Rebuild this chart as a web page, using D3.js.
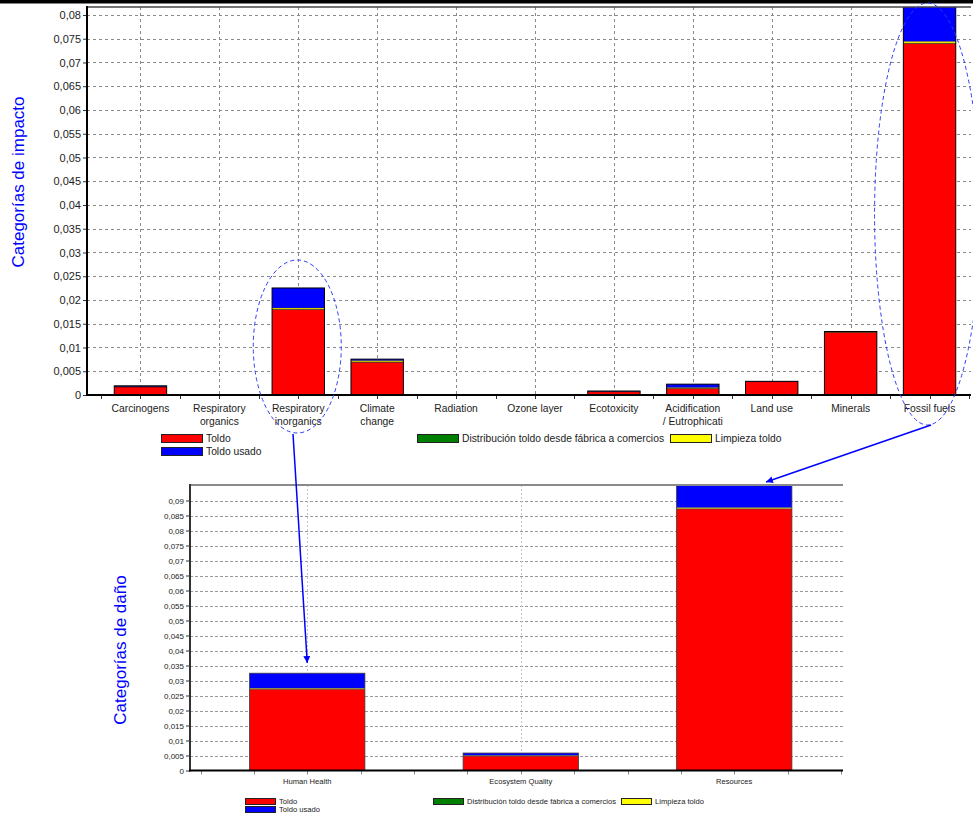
<!DOCTYPE html>
<html>
<head>
<meta charset="utf-8">
<script src="https://cdn.jsdelivr.net/npm/d3@7/dist/d3.min.js"></script>
<style>
  html, body { margin: 0; padding: 0; background: #fff; }
  svg { display: block; font-family: "Liberation Sans", Arial, sans-serif; }
</style>
</head>
<body>
<svg id="chart" width="973" height="814"></svg>
<script>
// ---- Impact categories (upper chart) ----
const impactCategories = ["Carcinogens", "Respiratory organics", "Respiratory inorganics", "Climate change",
  "Radiation", "Ozone layer", "Ecotoxicity", "Acidification / Eutrophicati", "Land use", "Minerals", "Fossil fuels"];
const impactLabelLines = [["Carcinogens"], ["Respiratory", "organics"], ["Respiratory", "inorganics"], ["Climate", "change"],
  ["Radiation"], ["Ozone layer"], ["Ecotoxicity"], ["Acidification", "/ Eutrophicati"], ["Land use"], ["Minerals"], ["Fossil fuels"]];
const impactToldo        = [0.0017, 0, 0.0180, 0.0069, 0, 0, 0.0007, 0.00135, 0.0028, 0.0132, 0.0740];
const impactDistribucion = [0.00002, 0, 0.00003, 0.00005, 0, 0, 0, 0.00003, 0, 0.00001, 0.00005];
const impactLimpieza     = [0.00003, 0, 0.0003, 0.0003, 0, 0, 0.00002, 0.0002, 0, 0.00005, 0.0004];
const impactToldoUsado   = [0.00018, 0, 0.0042, 0.0003, 0, 0, 0.00012, 0.0007, 0.00008, 0.0001, 0.0075];
const impactTickLabels = ["0", "0,005", "0,01", "0,015", "0,02", "0,025", "0,03", "0,035", "0,04",
  "0,045", "0,05", "0,055", "0,06", "0,065", "0,07", "0,075", "0,08"];
const impactMax = 0.08168;

// ---- Damage categories (lower chart) ----
const damageCategories   = ["Human Health", "Ecosystem Quality", "Resources"];
const damageToldo        = [0.0271, 0.0048, 0.0872];
const damageDistribucion = [0.00003, 0.00002, 0.00005];
const damageLimpieza     = [0.0003, 0.0002, 0.0004];
const damageToldoUsado   = [0.0050, 0.0008, 0.0080];
const damageTickLabels = ["0", "0,005", "0,01", "0,015", "0,02", "0,025", "0,03", "0,035", "0,04", "0,045",
  "0,05", "0,055", "0,06", "0,065", "0,07", "0,075", "0,08", "0,085", "0,09"];
const damageMax = 0.09517;

// ---- Series ----
const seriesKeys   = ["Toldo", "Distribución toldo desde fábrica a comercios", "Limpieza toldo", "Toldo usado"];
const seriesColors = ["#ff0000", "#008000", "#ffff00", "#0000ff"];

const svg = d3.select("#chart");
const color = d3.scaleOrdinal().domain(seriesKeys).range(seriesColors);
const parseTick = s => +s.replace(",", ".");

function rows(cats, a, b, c, d) {
  return cats.map((cat, i) => ({ cat, [seriesKeys[0]]: a[i], [seriesKeys[1]]: b[i], [seriesKeys[2]]: c[i], [seriesKeys[3]]: d[i] }));
}

function drawChart(cfg) {
  const g = svg.append("g");
  const x = d3.scaleBand().domain(cfg.categories).range(cfg.bandRange).padding(0);
  const y = d3.scaleLinear().domain([0, cfg.max]).range([cfg.bottom, cfg.top]);
  const tickVals = cfg.tickLabels.map(parseTick);
  const step = x.bandwidth();
  const barW = step * cfg.barRatio;
  const barX = c => x(c) + (step - barW) / 2;

  // horizontal grid
  g.append("g").selectAll("line").data(tickVals.filter(v => v > 0)).join("line")
    .attr("x1", cfg.left).attr("x2", cfg.right)
    .attr("y1", d => Math.round(y(d)) + 0.5).attr("y2", d => Math.round(y(d)) + 0.5)
    .attr("stroke", cfg.gridColor).attr("stroke-width", 1).attr("stroke-dasharray", cfg.gridDash);
  // vertical grid at category centres
  g.append("g").selectAll("line").data(cfg.categories).join("line")
    .attr("x1", d => Math.round(x(d) + step / 2) + 0.5).attr("x2", d => Math.round(x(d) + step / 2) + 0.5)
    .attr("y1", cfg.top).attr("y2", cfg.bottom)
    .attr("stroke", cfg.vGridColor).attr("stroke-width", 1).attr("stroke-dasharray", cfg.vGridDash);

  // clip for the plot area
  const clipId = "clip-" + cfg.id;
  svg.append("clipPath").attr("id", clipId).append("rect")
    .attr("x", cfg.left).attr("y", cfg.top).attr("width", cfg.right - cfg.left).attr("height", cfg.bottom - cfg.top);

  // stacked bars: fills, thin separators, outline of each stack
  const stacked = d3.stack().keys(seriesKeys)(cfg.data);
  const bars = g.append("g").attr("clip-path", `url(#${clipId})`);
  bars.selectAll("g").data(stacked).join("g")
    .attr("fill", d => color(d.key))
    .selectAll("rect").data(d => d.filter(p => p[1] - p[0] > 0)).join("rect")
    .attr("x", d => barX(d.data.cat))
    .attr("width", barW)
    .attr("y", d => y(d[1]))
    .attr("height", d => Math.max(0, y(d[0]) - y(d[1])));
  const seps = stacked.slice(0, -1).flatMap(s => s.filter(p => p[1] - p[0] > 0 && p[1] < d3.sum(seriesKeys, k => p.data[k]) - 1e-9));
  bars.append("g").selectAll("line").data(seps).join("line")
    .attr("x1", d => barX(d.data.cat)).attr("x2", d => barX(d.data.cat) + barW)
    .attr("y1", d => y(d[1])).attr("y2", d => y(d[1]))
    .attr("stroke", cfg.barStroke).attr("stroke-width", 0.5).attr("stroke-opacity", 0.7);
  const totals = cfg.data.map(r => ({ cat: r.cat, total: d3.sum(seriesKeys, k => r[k]) })).filter(d => d.total > 0);
  bars.append("g").selectAll("rect").data(totals).join("rect")
    .attr("x", d => barX(d.cat)).attr("width", barW)
    .attr("y", d => y(d.total)).attr("height", d => y(0) - y(d.total))
    .attr("fill", "none").attr("stroke", cfg.barStroke).attr("stroke-width", cfg.barStrokeWidth);

  // y axis
  const yAxis = d3.axisLeft(y).tickValues(tickVals).tickSize(4).tickPadding(2)
    .tickFormat((d, i) => cfg.tickLabels[i]);
  const ya = g.append("g").attr("transform", `translate(${cfg.left},0)`).call(yAxis);
  ya.select(".domain").remove();
  ya.selectAll(".tick line").attr("stroke", "#333");
  ya.selectAll(".tick text").attr("fill", "#222").style("font-size", cfg.tickFont + "px")
    .style("font-family", "'Liberation Sans', Arial, sans-serif");

  // x ticks at sub-steps
  const sub = d3.range(0, cfg.categories.length * cfg.subDiv + 1).map(i => cfg.bandRange[0] + i * step / cfg.subDiv);
  g.append("g").selectAll("line").data(sub).join("line")
    .attr("x1", d => Math.round(d) + 0.5).attr("x2", d => Math.round(d) + 0.5)
    .attr("y1", cfg.bottom).attr("y2", cfg.bottom + 4)
    .attr("stroke", cfg.subTickColor).attr("stroke-width", 1);

  // x labels
  const xl = g.append("g").selectAll("text").data(cfg.categories).join("text")
    .attr("x", d => x(d) + step / 2).attr("y", cfg.labelY)
    .attr("text-anchor", "middle").attr("fill", "#222").style("font-size", cfg.labelFont + "px");
  xl.each(function (d, i) {
    d3.select(this).selectAll("tspan").data(cfg.labelLines[i]).join("tspan")
      .attr("x", x(d) + step / 2).attr("dy", (t, j) => j === 0 ? 0 : cfg.lineGap).text(t => t);
  });

  // frame
  g.append("line").attr("x1", cfg.left).attr("x2", cfg.right).attr("y1", cfg.top).attr("y2", cfg.top)
    .attr("stroke", cfg.topBorder).attr("stroke-width", cfg.topBorderWidth);
  g.append("line").attr("x1", cfg.left).attr("x2", cfg.left).attr("y1", cfg.top - 1).attr("y2", cfg.bottom + 1)
    .attr("stroke", cfg.leftAxisColor).attr("stroke-width", 2);
  g.append("line").attr("x1", cfg.left - 1).attr("x2", cfg.right).attr("y1", cfg.bottom).attr("y2", cfg.bottom)
    .attr("stroke", "#000").attr("stroke-width", 2);

  // axis title
  svg.append("text").attr("transform", `translate(${cfg.titleX},${cfg.titleY}) rotate(-90)`)
    .attr("text-anchor", "middle").attr("fill", "#0000ff").style("font-size", "17px").text(cfg.title);

  // legend
  const lg = svg.append("g").style("font-size", cfg.legendFont + "px");
  cfg.legendPos.forEach((p, i) => {
    lg.append("rect").attr("x", p[0] + 0.5).attr("y", p[1] + 0.5).attr("width", cfg.swatchW).attr("height", cfg.swatchH)
      .attr("fill", seriesColors[i]).attr("stroke", "#222").attr("stroke-width", 1);
    lg.append("text").attr("x", p[0] + cfg.swatchW + 4).attr("y", p[1] + cfg.swatchH / 2 + 1)
      .attr("dy", "0.32em").attr("fill", "#222").text(seriesKeys[i]);
  });

  return { x, y, step };
}

// black rule across the top of the page
svg.append("rect").attr("x", 0).attr("y", 0).attr("width", 973).attr("height", 3.5).attr("fill", "#000");

const impactChart = drawChart({
  id: "impact",
  categories: impactCategories, labelLines: impactLabelLines,
  data: rows(impactCategories, impactToldo, impactDistribucion, impactLimpieza, impactToldoUsado),
  tickLabels: impactTickLabels, max: impactMax,
  left: 87, right: 971, top: 7, bottom: 395, bandRange: [101, 969], barRatio: 0.664,
  gridColor: "#8a8a8a", gridDash: "3,3", vGridColor: "#8a8a8a", vGridDash: "3,3",
  barStroke: "#000", barStrokeWidth: 1, tickFont: 11, labelFont: 10.3, labelY: 412, lineGap: 13.3,
  subDiv: 2, subTickColor: "#333",
  topBorder: "#444", topBorderWidth: 1.5, leftAxisColor: "#000",
  title: "Categorías de impacto", titleX: 23.5, titleY: 182,
  legendFont: 10.3, swatchW: 41, swatchH: 8,
  legendPos: [[161, 434], [417, 434], [670, 434], [161, 447]]
});

const damageChart = drawChart({
  id: "damage",
  categories: damageCategories, labelLines: damageCategories.map(d => [d]),
  data: rows(damageCategories, damageToldo, damageDistribucion, damageLimpieza, damageToldoUsado),
  tickLabels: damageTickLabels, max: damageMax,
  left: 190, right: 843, top: 485, bottom: 770.5, bandRange: [200.5, 841], barRatio: 0.54,
  gridColor: "#9a9a9a", gridDash: "3,2", vGridColor: "#c4c4c4", vGridDash: "2,2",
  barStroke: "#3a3a3a", barStrokeWidth: 0.8, tickFont: 8, labelFont: 7.6, labelY: 783.5, lineGap: 10,
  subDiv: 4, subTickColor: "#888",
  topBorder: "#8a8a8a", topBorderWidth: 2, leftAxisColor: "#333",
  title: "Categorías de daño", titleX: 126, titleY: 650,
  legendFont: 7.6, swatchW: 30, swatchH: 6,
  legendPos: [[245, 798], [433, 798], [621, 798], [245, 806]]
});

// ---- annotations: dashed ellipses and arrows ----
const ann = svg.append("g");
const inorgX = impactChart.x("Respiratory inorganics") + impactChart.step / 2;
const fossilX = impactChart.x("Fossil fuels") + impactChart.step / 2;
ann.append("ellipse").attr("cx", inorgX - 1).attr("cy", 346.5).attr("rx", 44).attr("ry", 86.5)
  .attr("fill", "none").attr("stroke", "#2b3cf5").attr("stroke-width", 1).attr("stroke-dasharray", "4,3");
ann.append("ellipse").attr("cx", fossilX - 2).attr("cy", 214).attr("rx", 53).attr("ry", 211)
  .attr("fill", "none").attr("stroke", "#2b3cf5").attr("stroke-width", 1).attr("stroke-dasharray", "4,3");

svg.append("defs").append("marker").attr("id", "arrowhead")
  .attr("viewBox", "0 0 10 10").attr("refX", 10).attr("refY", 5)
  .attr("markerWidth", 7).attr("markerHeight", 7).attr("markerUnits", "userSpaceOnUse")
  .attr("orient", "auto")
  .append("path").attr("d", "M0,0 L10,5 L0,10 Z").attr("fill", "#0000ff");

const hhX = damageChart.x("Human Health") + damageChart.step / 2;
const resTopY = damageChart.y(damageMax);
ann.append("line").attr("x1", 293).attr("y1", 434).attr("x2", hhX).attr("y2", 663)
  .attr("stroke", "#0000ff").attr("stroke-width", 1.5).attr("marker-end", "url(#arrowhead)");
ann.append("line").attr("x1", 931).attr("y1", 425).attr("x2", 766).attr("y2", resTopY - 3)
  .attr("stroke", "#0000ff").attr("stroke-width", 1.5).attr("marker-end", "url(#arrowhead)");
</script>
</body>
</html>
